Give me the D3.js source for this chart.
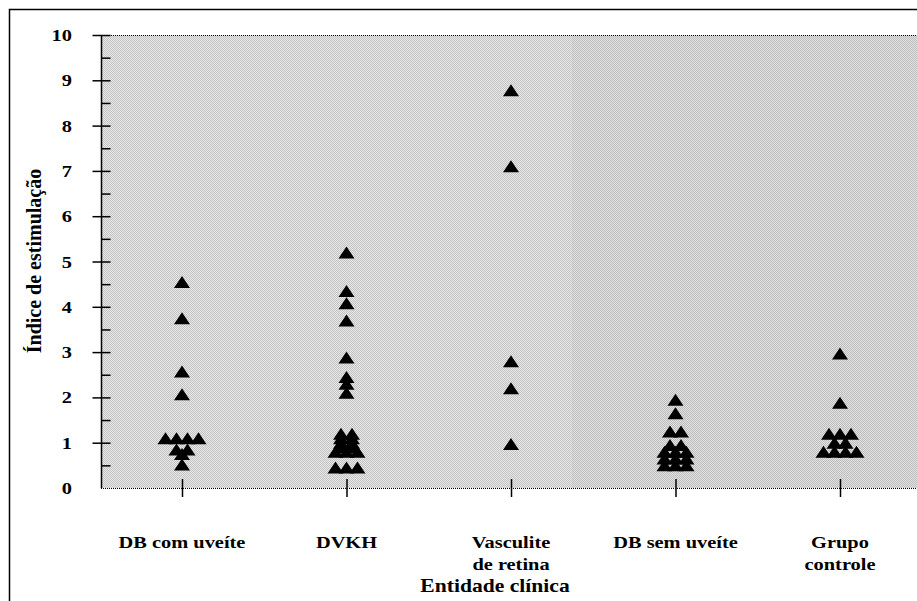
<!DOCTYPE html>
<html lang="pt">
<head>
<meta charset="utf-8">
<title>Índice de estimulação por entidade clínica</title>
<style>
  body { margin: 0; background: #fff; }
  svg text { font-family: "Liberation Serif", "Times New Roman", Times, serif; font-weight: bold; fill: #000; }
</style>
</head>
<body>
<div id="chart"></div>
<script src="https://cdn.jsdelivr.net/npm/d3@7/dist/d3.min.js"></script>
<script>

var width = 917, height = 601;

// ---- dados ----
var categories = ["DB com uveíte", "DVKH", "Vasculite de retina", "DB sem uveíte", "Grupo controle"];
var categoryLabels = [["DB com uveíte"], ["DVKH"], ["Vasculite", "de retina"], ["DB sem uveíte"], ["Grupo", "controle"]];

var dbComUveite = [4.55, 3.75, 2.57, 2.07, 1.1, 1.1, 1.1, 1.1, 0.85, 0.85, 0.75, 0.52];
var dvkh = [5.2, 4.35, 4.08, 3.7, 2.88, 2.45, 2.3, 2.1,
            1.2, 1.2, 1.1, 1.1, 1.0, 1.0, 0.9, 0.9, 0.8, 0.8, 0.8, 0.45, 0.45, 0.45];
var vasculite = [8.78, 7.1, 2.8, 2.2, 0.97];
var dbSemUveite = [1.95, 1.65, 1.25, 1.25, 0.95, 0.95, 0.8, 0.8, 0.8, 0.65, 0.65, 0.65, 0.5, 0.5, 0.5];
var grupoControle = [2.97, 1.88, 1.2, 1.2, 1.2, 1.0, 1.0, 0.8, 0.8, 0.8, 0.8];

var series = [dbComUveite, dvkh, vasculite, dbSemUveite, grupoControle];

var yTicks = [0, 1, 2, 3, 4, 5, 6, 7, 8, 9, 10];
var yMinorTicks = [0.5, 1.5, 2.5, 3.5, 4.5, 5.5, 6.5, 7.5, 8.5, 9.5];

var yTitle = "Índice de estimulação";
var xTitle = "Entidade clínica";

// ---- layout ----
var plot = {left: 101, right: 917, top: 35, bottom: 488};
var stretch = 1.2;   // o texto do original é mais largo que Times
var serif = "'Liberation Serif', 'Times New Roman', serif";

var x = d3.scalePoint().domain(categories).range([182, 840]);
var y = d3.scaleLinear().domain([0, 10]).range([plot.bottom, plot.top]);

var svg = d3.select("#chart").append("svg")
    .attr("width", width)
    .attr("height", height);

// textura de retícula (pontos) do fundo
var defs = svg.append("defs");
function dither(id, base, dot) {
  var p = defs.append("pattern").attr("id", id)
      .attr("width", 2).attr("height", 2)
      .attr("patternUnits", "userSpaceOnUse");
  p.append("rect").attr("width", 2).attr("height", 2).attr("fill", base);
  p.append("rect").attr("width", 1).attr("height", 1).attr("fill", dot);
  p.append("rect").attr("x", 1).attr("y", 1).attr("width", 1).attr("height", 1).attr("fill", dot);
}
dither("dotsA", "#e8e8e8", "#c2c2c2");
dither("dotsB", "#e2e2e2", "#bcbcbc");

// moldura externa
svg.append("rect")
    .attr("x", 9.5).attr("y", 9.5)
    .attr("width", width + 20).attr("height", height + 20)
    .attr("fill", "none").attr("stroke", "#000").attr("stroke-width", 1.5);

// fundo do gráfico
var split = 572;
svg.append("rect")
    .attr("x", plot.left).attr("y", plot.top)
    .attr("width", split - plot.left).attr("height", plot.bottom - plot.top)
    .attr("fill", "url(#dotsA)");
svg.append("rect")
    .attr("x", split).attr("y", plot.top)
    .attr("width", plot.right - split).attr("height", plot.bottom - plot.top)
    .attr("fill", "url(#dotsB)");

// linhas pontilhadas de topo e base
[plot.top, plot.bottom].forEach(function(yy) {
  svg.append("line")
      .attr("x1", plot.left).attr("x2", plot.right)
      .attr("y1", yy + 0.5).attr("y2", yy + 0.5)
      .attr("stroke", "#000").attr("stroke-width", 1)
      .attr("stroke-dasharray", "1,1");
});

// eixo y
var yAxis = svg.append("g")
    .attr("transform", "translate(" + (plot.left + 0.5) + ",0)")
    .call(d3.axisLeft(y).tickValues(yTicks).tickSize(9).tickFormat(""));
yAxis.select(".domain").remove();
yAxis.selectAll(".tick line").attr("x1", 9).attr("stroke-width", 1.5);
yAxis.selectAll(".tick").filter(function(d) { return d === 0; }).remove();

var yMinor = svg.append("g")
    .attr("transform", "translate(" + (plot.left + 0.5) + ",0)")
    .call(d3.axisLeft(y).tickValues(yMinorTicks).tickSize(-9).tickFormat(""));
yMinor.select(".domain").remove();
yMinor.selectAll(".tick line").attr("stroke-width", 1.5);

svg.append("line")
    .attr("x1", plot.left + 0.5).attr("x2", plot.left + 0.5)
    .attr("y1", plot.top).attr("y2", plot.bottom)
    .attr("stroke", "#000").attr("stroke-width", 1.5);

svg.append("g").selectAll("g")
    .data(yTicks)
  .enter().append("g")
    .attr("transform", function(d) { return "translate(72," + (y(d) + 6) + ") scale(" + stretch + ",1)"; })
  .append("text")
    .attr("text-anchor", "end")
    .attr("font-family", serif)
    .style("font-size", "17px")
    .text(function(d) { return d; });

svg.append("text")
    .attr("transform", "translate(41,261) rotate(-90)")
    .attr("text-anchor", "middle")
    .attr("font-family", serif)
    .style("font-size", "20px")
    .text(yTitle);

// eixo x
svg.append("g").selectAll("line")
    .data(categories)
  .enter().append("line")
    .attr("x1", function(d) { return x(d) + 0.5; })
    .attr("x2", function(d) { return x(d) + 0.5; })
    .attr("y1", plot.bottom - 9).attr("y2", plot.bottom + 9)
    .attr("stroke", "#000").attr("stroke-width", 1.5);

var xl = svg.append("g").selectAll("g")
    .data(categories)
  .enter().append("g")
    .attr("transform", function(d) { return "translate(" + x(d) + ",0) scale(" + stretch + ",1)"; });
xl.each(function(d, i) {
  d3.select(this).selectAll("text")
      .data(categoryLabels[i])
    .enter().append("text")
      .attr("y", function(t, j) { return 548 + j * 22; })
      .attr("text-anchor", "middle")
      .attr("font-family", serif)
      .style("font-size", "17px")
      .text(function(t) { return t; });
});

svg.append("g")
    .attr("transform", "translate(495,592) scale(" + stretch + ",1)")
  .append("text")
    .attr("text-anchor", "middle")
    .attr("font-family", serif)
    .style("font-size", "18px")
    .text(xTitle);

// pontos: valores repetidos ficam lado a lado
var step = 11;
function spread(values, cat) {
  var counts = d3.rollup(values, function(v) { return v.length; }, function(v) { return v; });
  var seen = new Map();
  return values.map(function(v) {
    var n = counts.get(v), k = seen.get(v) || 0;
    seen.set(v, k + 1);
    return {cat: cat, value: v, dx: (k - (n - 1) / 2) * step};
  });
}
var points = [];
series.forEach(function(s, i) { points = points.concat(spread(s, categories[i])); });

var tri = "M0,-6L8,6L-8,6Z";
svg.append("g").selectAll("path")
    .data(points)
  .enter().append("path")
    .attr("d", tri)
    .attr("fill", "#000")
    .attr("transform", function(d) { return "translate(" + (x(d.cat) + d.dx) + "," + y(d.value) + ")"; });

</script>
</body>
</html>
